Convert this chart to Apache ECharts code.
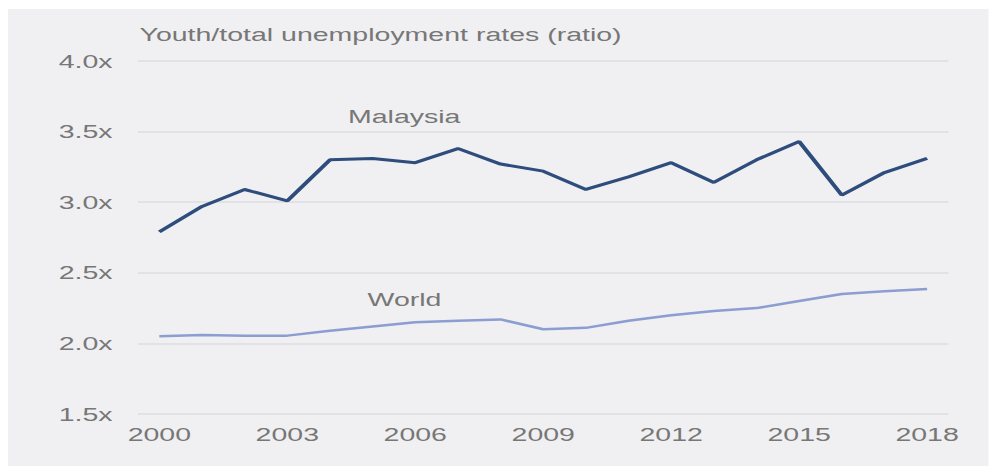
<!DOCTYPE html>
<html>
<head>
<meta charset="utf-8">
<script src="https://cdn.jsdelivr.net/npm/echarts@6/dist/echarts.min.js"></script>
<style>
  html, body { margin: 0; padding: 0; background: #fff; overflow: hidden; }
  /* the source picture is stretched sideways, so draw narrow and stretch */
  #chart { width: 659px; height: 466px; transform: scaleX(1.5); transform-origin: 0 0; }
</style>
</head>
<body>
<div id="chart"></div>
<script>
var years = ['2000', '2001', '2002', '2003', '2004', '2005', '2006', '2007', '2008', '2009',
             '2010', '2011', '2012', '2013', '2014', '2015', '2016', '2017', '2018'];
var malaysia = [2.79, 2.97, 3.09, 3.01, 3.30, 3.31, 3.28, 3.38, 3.27, 3.22,
                3.09, 3.18, 3.28, 3.14, 3.30, 3.43, 3.05, 3.21, 3.31];
var world = [2.05, 2.06, 2.055, 2.055, 2.09, 2.12, 2.15, 2.16, 2.17, 2.10,
             2.11, 2.16, 2.20, 2.23, 2.25, 2.30, 2.35, 2.37, 2.385];
var yTicks = [1.5, 2.0, 2.5, 3.0, 3.5, 4.0];

var textColor = '#777777';
var font = 'Liberation Sans';

var chart = echarts.init(document.getElementById('chart'), null, { renderer: 'svg' });

var option = {
    backgroundColor: '#ffffff',
    animation: false,
    graphic: [
        {
            type: 'rect',
            z: -10,
            shape: { x: 5.3, y: 9, width: 660, height: 457 },
            style: { fill: '#f0f0f2' }
        },
        {
            type: 'text',
            left: 93,
            top: 25,
            style: {
                text: 'Youth/total unemployment rates (ratio)',
                fill: textColor,
                font: '19px "Liberation Sans"'
            }
        },
        {
            type: 'text',
            left: 232,
            top: 107,
            style: { text: 'Malaysia', fill: textColor, font: '19px "Liberation Sans"' }
        },
        {
            type: 'text',
            left: 245,
            top: 290,
            style: { text: 'World', fill: textColor, font: '19px "Liberation Sans"' }
        }
    ],
    grid: {
        left: 92,
        right: 26.7,
        top: 61,
        bottom: 52
    },
    xAxis: {
        type: 'category',
        data: years,
        boundaryGap: true,
        axisLine: { show: false },
        axisTick: { show: false },
        axisLabel: {
            interval: 2,
            color: textColor,
            fontFamily: font,
            fontSize: 19,
            margin: 11
        }
    },
    yAxis: {
        type: 'value',
        min: yTicks[0],
        max: yTicks[yTicks.length - 1],
        interval: 0.5,
        axisLine: { show: false },
        axisTick: { show: false },
        axisLabel: {
            color: textColor,
            fontFamily: font,
            fontSize: 19,
            margin: 17,
            formatter: function (v) { return v.toFixed(1) + 'x'; }
        },
        splitLine: {
            lineStyle: { color: '#dedee2', width: 1.5 }
        }
    },
    series: [
        {
            name: 'Malaysia',
            type: 'line',
            data: malaysia,
            symbol: 'none',
            lineStyle: { color: '#2e4d7c', width: 3 }
        },
        {
            name: 'World',
            type: 'line',
            data: world,
            symbol: 'none',
            lineStyle: { color: '#8c9dd1', width: 2.5 }
        }
    ]
};

chart.setOption(option);
</script>
</body>
</html>
